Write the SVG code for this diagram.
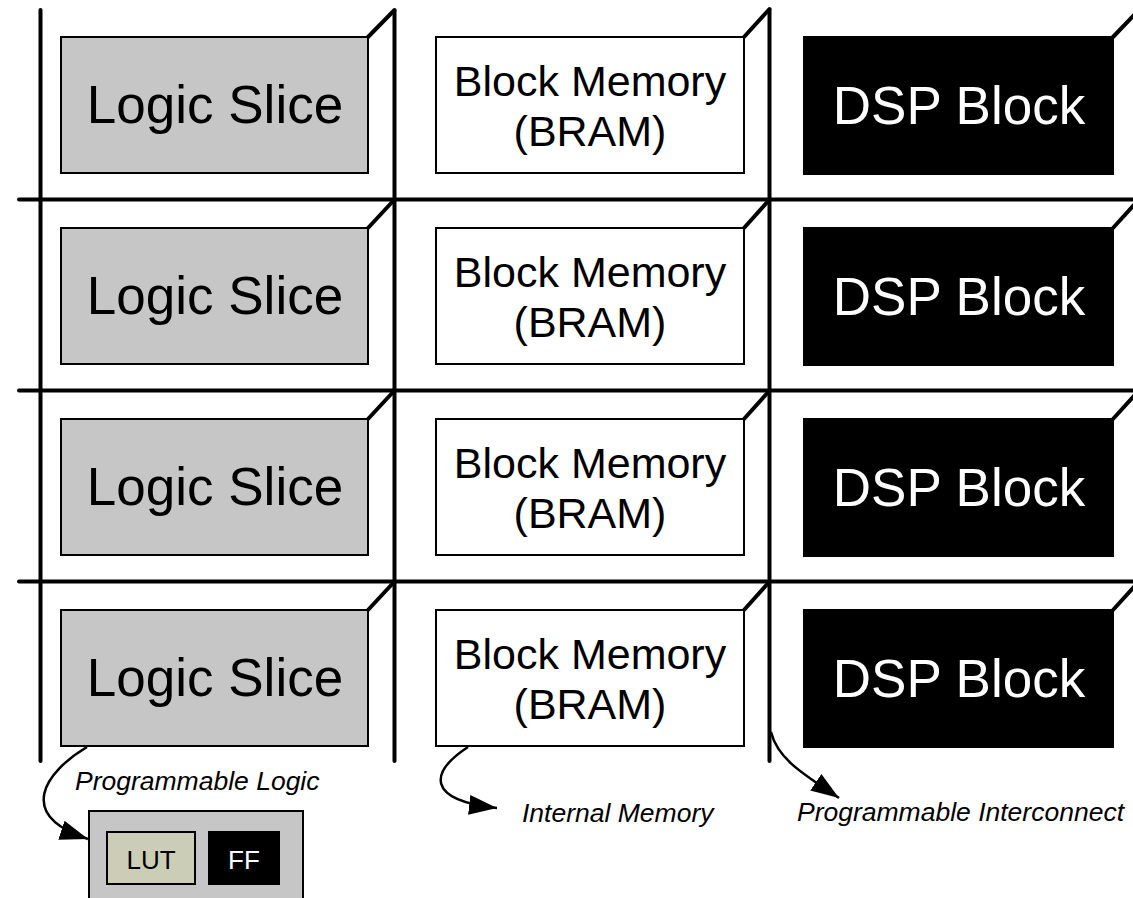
<svg xmlns="http://www.w3.org/2000/svg" width="1133" height="898" viewBox="0 0 1133 898">
<style>
.grid{stroke:#000;stroke-width:4;stroke-linecap:round;fill:none}
.diag{stroke:#000;stroke-width:4;stroke-linecap:round;fill:none}
.logic{fill:#c6c6c6;stroke:#000;stroke-width:2}
.bram{fill:#fff;stroke:#000;stroke-width:2}
.dsp{fill:#000;stroke:#000;stroke-width:2}
.big{font-family:"Liberation Sans",Arial,sans-serif;font-size:53px;text-anchor:middle}
.mid{font-family:"Liberation Sans",Arial,sans-serif;font-size:43px;text-anchor:middle}
.lab{font-family:"Liberation Sans",Arial,sans-serif;font-size:26.5px;font-style:italic}
.small{font-family:"Liberation Sans",Arial,sans-serif;font-size:26px;text-anchor:middle}
.conn{stroke:#000;stroke-width:2.5;fill:none;marker-end:url(#arr)}
</style>
<defs>
<marker id="arr" markerUnits="userSpaceOnUse" markerWidth="30" markerHeight="22" refX="28" refY="10" orient="auto" viewBox="0 0 30 22">
<path d="M0,0 L28,10 L0,20 Z" fill="#000"/>
</marker>
</defs>
<rect width="1133" height="898" fill="#fff"/>
<g id="interconnect">
<line class="grid" x1="40.5" y1="10" x2="40.5" y2="761"/>
<line class="grid" x1="394.5" y1="11" x2="394.5" y2="761"/>
<line class="grid" x1="769.5" y1="10" x2="769.5" y2="761"/>
<line class="grid" x1="1137" y1="10" x2="1137" y2="761"/>
<line class="grid" x1="19" y1="199.5" x2="1140" y2="199.5"/>
<line class="grid" x1="19" y1="390.5" x2="1140" y2="390.5"/>
<line class="grid" x1="19" y1="581.5" x2="1140" y2="581.5"/>
<path class="diag" d="M368,37 L394.5,10 M744,37 L769.5,9 M1113,37 L1139,10"/>
<path class="diag" d="M368,228 L394.5,199.5 M744,228 L769.5,199.5 M1113,228 L1139,199.5"/>
<path class="diag" d="M368,419 L394.5,390.5 M744,419 L769.5,390.5 M1113,419 L1139,390.5"/>
<path class="diag" d="M368,610 L394.5,581.5 M744,610 L769.5,581.5 M1113,610 L1139,581.5"/>
</g>
<g id="logic1"><rect class="logic" x="61" y="37" width="307" height="136"/><text class="big" x="215" y="123">Logic Slice</text></g>
<g id="logic2"><rect class="logic" x="61" y="228" width="307" height="136"/><text class="big" x="215" y="314">Logic Slice</text></g>
<g id="logic3"><rect class="logic" x="61" y="419" width="307" height="136"/><text class="big" x="215" y="505">Logic Slice</text></g>
<g id="logic4"><rect class="logic" x="61" y="610" width="307" height="136"/><text class="big" x="215" y="696">Logic Slice</text></g>
<g id="bram1"><rect class="bram" x="436" y="37" width="308" height="136"/><text class="mid" x="590" y="96">Block Memory</text><text class="mid" x="590" y="146">(BRAM)</text></g>
<g id="bram2"><rect class="bram" x="436" y="228" width="308" height="136"/><text class="mid" x="590" y="287">Block Memory</text><text class="mid" x="590" y="337">(BRAM)</text></g>
<g id="bram3"><rect class="bram" x="436" y="419" width="308" height="136"/><text class="mid" x="590" y="478">Block Memory</text><text class="mid" x="590" y="528">(BRAM)</text></g>
<g id="bram4"><rect class="bram" x="436" y="610" width="308" height="136"/><text class="mid" x="590" y="669">Block Memory</text><text class="mid" x="590" y="719">(BRAM)</text></g>
<g id="dsp1"><rect class="dsp" x="804" y="37" width="309" height="137"/><text class="big" x="959" y="124" fill="#fff">DSP Block</text></g>
<g id="dsp2"><rect class="dsp" x="804" y="228" width="309" height="137"/><text class="big" x="959" y="315" fill="#fff">DSP Block</text></g>
<g id="dsp3"><rect class="dsp" x="804" y="419" width="309" height="137"/><text class="big" x="959" y="506" fill="#fff">DSP Block</text></g>
<g id="dsp4"><rect class="dsp" x="804" y="610" width="309" height="137"/><text class="big" x="959" y="697" fill="#fff">DSP Block</text></g>
<g id="slice-detail">
<rect x="89" y="811" width="214" height="100" fill="#c6c6c6" stroke="#000" stroke-width="2"/>
<rect x="107" y="832" width="88" height="52" fill="#cbcdb6" stroke="#000" stroke-width="2"/>
<text class="small" x="151" y="869">LUT</text>
<rect x="208" y="831" width="72" height="54" fill="#000"/>
<text class="small" x="244" y="869" fill="#fff">FF</text>
</g>
<g id="connectors">
<path class="conn" d="M87,747 C45,772 15,815 88,839"/>
<path class="conn" d="M468,747 C430,772 425,800 497,808"/>
<path class="conn" d="M771,732 C778,760 805,775 839,798"/>
</g>
<g id="labels">
<text class="lab" x="75" y="790">Programmable Logic</text>
<text class="lab" x="522" y="822">Internal Memory</text>
<text class="lab" x="797" y="821">Programmable Interconnect</text>
</g>
</svg>
